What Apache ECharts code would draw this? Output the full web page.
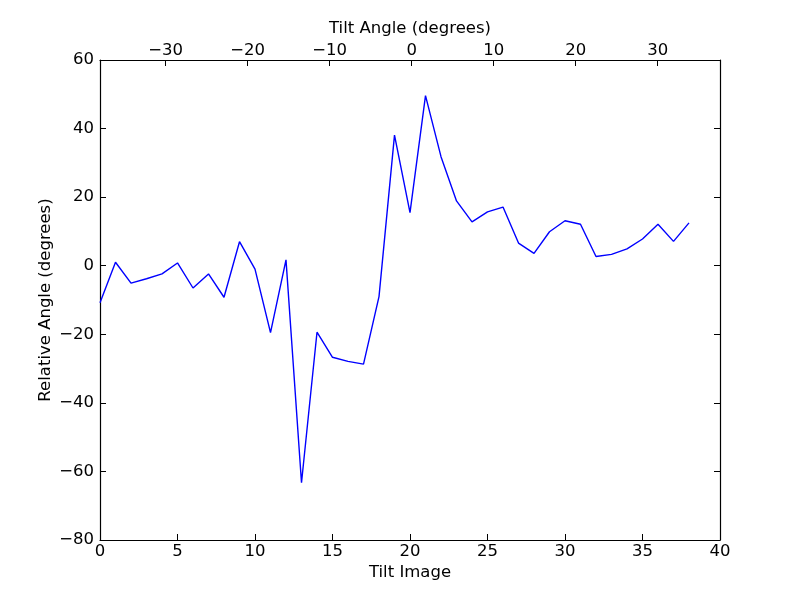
<!DOCTYPE html>
<html>
<head>
<meta charset="utf-8">
<script src="https://cdn.jsdelivr.net/npm/echarts@6/dist/echarts.min.js"></script>
<style>html,body{margin:0;padding:0;background:#fff}#c{width:800px;height:600px}</style>
</head>
<body>
<div id="c"></div>
<script>
// Tilt image index (bottom axis)
var tiltImage = [0,1,2,3,4,5,6,7,8,9,10,11,12,13,14,15,16,17,18,19,20,21,22,23,24,25,26,27,28,29,30,31,32,33,34,35,36,37,38];
// Relative angle (degrees)
var relAngle = [-10.8,1.0,-5.1,-3.8,-2.4,0.8,-6.5,-2.4,-9.2,7.0,-1.0,-19.5,1.7,-63.3,-19.4,-26.7,-27.9,-28.7,-9.0,38.1,15.5,49.6,31.8,18.9,12.8,15.7,17.1,6.6,3.6,9.9,13.1,12.1,2.7,3.3,4.9,7.8,12.1,7.1,12.5];
// Tick labels
var bottomTicks = [0,5,10,15,20,25,30,35,40];
var topTicks = [-30,-20,-10,0,10,20,30];
var leftTicks = [-80,-60,-40,-20,0,20,40,60];
var topRange = [-38, 37.6];

var FONT = 'DejaVu Sans';
var FS = 16.5;
function fmt(v){ return String(v).replace('-', '\u2212'); }

var pts = tiltImage.map(function(x,i){ return [x, relAngle[i]]; });

var chart = echarts.init(document.getElementById('c'), null, {renderer:'canvas'});
var lineStyle = {color:'#000', width:1.2};
var tickStyle = {color:'#000', width:1};
chart.setOption({
  animation:false,
  backgroundColor:'#fff',
  grid:{left:100,right:80,top:60,bottom:60,containLabel:false},
  xAxis:[{
    type:'value', position:'bottom', min:bottomTicks[0], max:bottomTicks[bottomTicks.length-1], interval:5,
    name:'Tilt Image', nameLocation:'middle', nameGap:24, nameMoveOverlap:false,
    nameTextStyle:{fontFamily:FONT,fontSize:FS,color:'#000'},
    axisLine:{show:true,onZero:false,lineStyle:lineStyle},
    axisTick:{show:true,inside:true,length:6,lineStyle:tickStyle},
    axisLabel:{fontFamily:FONT,fontSize:FS,color:'#000',margin:3,formatter:fmt},
    splitLine:{show:false}
  },{
    type:'value', position:'top', min:topRange[0], max:topRange[1],
    name:'Tilt Angle (degrees)', nameLocation:'middle', nameGap:23, nameMoveOverlap:false,
    nameTextStyle:{fontFamily:FONT,fontSize:FS,color:'#000'},
    axisLine:{show:true,onZero:false,lineStyle:lineStyle},
    axisTick:{show:true,inside:true,length:6,lineStyle:tickStyle,customValues:topTicks},
    axisLabel:{fontFamily:FONT,fontSize:FS,color:'#000',margin:1,formatter:fmt,customValues:topTicks},
    splitLine:{show:false}
  }],
  yAxis:[{
    type:'value', position:'left', min:leftTicks[0], max:leftTicks[leftTicks.length-1], interval:20,
    name:'Relative Angle (degrees)', nameLocation:'middle', nameGap:46, nameMoveOverlap:false,
    nameTextStyle:{fontFamily:FONT,fontSize:FS,color:'#000'},
    axisLine:{show:true,onZero:false,lineStyle:lineStyle},
    axisTick:{show:true,inside:true,length:6,lineStyle:tickStyle},
    axisLabel:{fontFamily:FONT,fontSize:FS,color:'#000',margin:6,formatter:fmt},
    splitLine:{show:false}
  },{
    type:'value', position:'right', min:leftTicks[0], max:leftTicks[leftTicks.length-1], interval:20,
    axisLine:{show:true,onZero:false,lineStyle:lineStyle},
    axisTick:{show:true,inside:true,length:6,lineStyle:tickStyle},
    axisLabel:{show:false},
    splitLine:{show:false}
  }],
  series:[{
    type:'line', xAxisIndex:0, yAxisIndex:0, data:pts,
    showSymbol:false, symbol:'none',
    lineStyle:{color:'#0000ff',width:1.4}
  }]
});
</script>
</body>
</html>
